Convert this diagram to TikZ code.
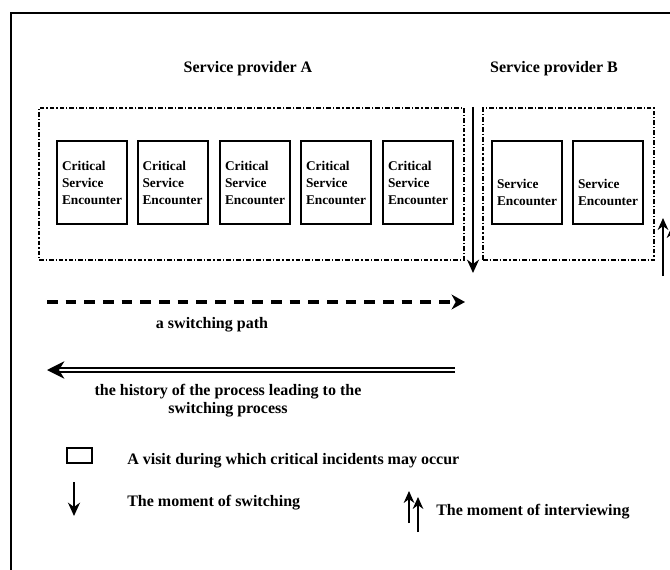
\documentclass[tikz,border=0pt]{standalone}
\usepackage{fontspec}
\setmainfont{Liberation Serif}
\usetikzlibrary{arrows.meta}

\tikzset{
  encounter/.style={draw, line width=1.5pt, minimum width=52.5pt, minimum height=62pt,
    inner sep=0pt, align=left, font=\bfseries\fontsize{10}{12.75}\selectfont},
  provider/.style={draw, line width=0.9pt, dash pattern=on 3.5pt off 1.5pt on 0.9pt off 1.5pt,
    minimum height=114pt, inner sep=0pt},
  lbl/.style={inner sep=0pt, font=\bfseries\fontsize{12}{13.5}\selectfont},
  switcharrow/.style={line width=1.6pt, -{Stealth[length=10pt, width=9pt]}},
  interviewarrow/.style={line width=1.1pt, -{Stealth[length=9pt, width=8pt]}},
  patharrow/.style={line width=3pt, dash pattern=on 8pt off 6pt, -{Stealth[length=10pt, width=11pt, inset=3pt]}},
  historyarrow/.style={double, line width=1.2pt, double distance=2.2pt, -{Stealth[length=13pt, width=13pt, inset=4pt]}}
}

\begin{document}
\begin{tikzpicture}[x=0.75pt, y=-0.75pt]
\useasboundingbox (0,0) rectangle (670,570);
\def\ty{182.5}

% frame
\draw[line width=1.5pt] (11,590) -- (11,13) -- (690,13);

\node[lbl, anchor=base] (provAlbl) at (248,73) {Service provider A};
\node[lbl, anchor=base] (provBlbl) at (554,73) {Service provider B};

\node[provider, minimum width=318.75pt] (provA) at (251.5,184) {};
\node[provider, minimum width=128.25pt] (provB) at (568.5,184) {};

\node[encounter] (cse1) at (92,\ty) {Critical\\Service\\Encounter};
\node[encounter] (cse2) at (172.5,\ty) {Critical\\Service\\Encounter};
\node[encounter] (cse3) at (255,\ty) {Critical\\Service\\Encounter};
\node[encounter] (cse4) at (336,\ty) {Critical\\Service\\Encounter};
\node[encounter] (cse5) at (418,\ty) {Critical\\Service\\Encounter};
\node[encounter] (se1) at (527,\ty) {\strut\\Service\\Encounter};
\node[encounter] (se2) at (608,\ty) {\strut\\Service\\Encounter};

\coordinate (swtop) at (473,107);
\coordinate (swbot) at (473,273);
\coordinate (iv1bot) at (663,276);
\coordinate (iv1top) at (663,218);
\coordinate (iv2bot) at (672,285);
\coordinate (iv2top) at (672,226);

\draw (swtop) edge[switcharrow] (swbot);
\draw (iv1bot) edge[interviewarrow] (iv1top);
\draw (iv2bot) edge[interviewarrow] (iv2top);

\coordinate (pathstart) at (47,302);
\coordinate (pathend) at (465,302);
\draw (pathstart) edge[patharrow] (pathend);
\node[lbl, anchor=base] (pathlbl) at (212,328) {a switching path};

\coordinate (histstart) at (455,370);
\coordinate (histend) at (47,370);
\draw (histstart) edge[historyarrow] (histend);
\node[lbl, align=center] (histlbl) at (228,401) {the history of the process leading to the\\switching process};

% key
\node[draw, line width=1.5pt, minimum width=18.75pt, minimum height=11.25pt, inner sep=0pt] (visitkey) at (79.5,455.5) {};
\node[lbl, anchor=base west] (visitlbl) at (127,464) {A visit during which critical incidents may occur};

\coordinate (swkeytop) at (74,482);
\coordinate (swkeybot) at (74,516);
\draw (swkeytop) edge[switcharrow] (swkeybot);
\node[lbl, anchor=base west] (swlbl) at (127,506) {The moment of switching};

\coordinate (ivkey1bot) at (409,523);
\coordinate (ivkey1top) at (409,491);
\coordinate (ivkey2bot) at (418,532);
\coordinate (ivkey2top) at (418,497);
\draw (ivkey1bot) edge[interviewarrow] (ivkey1top);
\draw (ivkey2bot) edge[interviewarrow] (ivkey2top);
\node[lbl, anchor=base west] (ivlbl) at (436,515) {The moment of interviewing};
\end{tikzpicture}
\end{document}
